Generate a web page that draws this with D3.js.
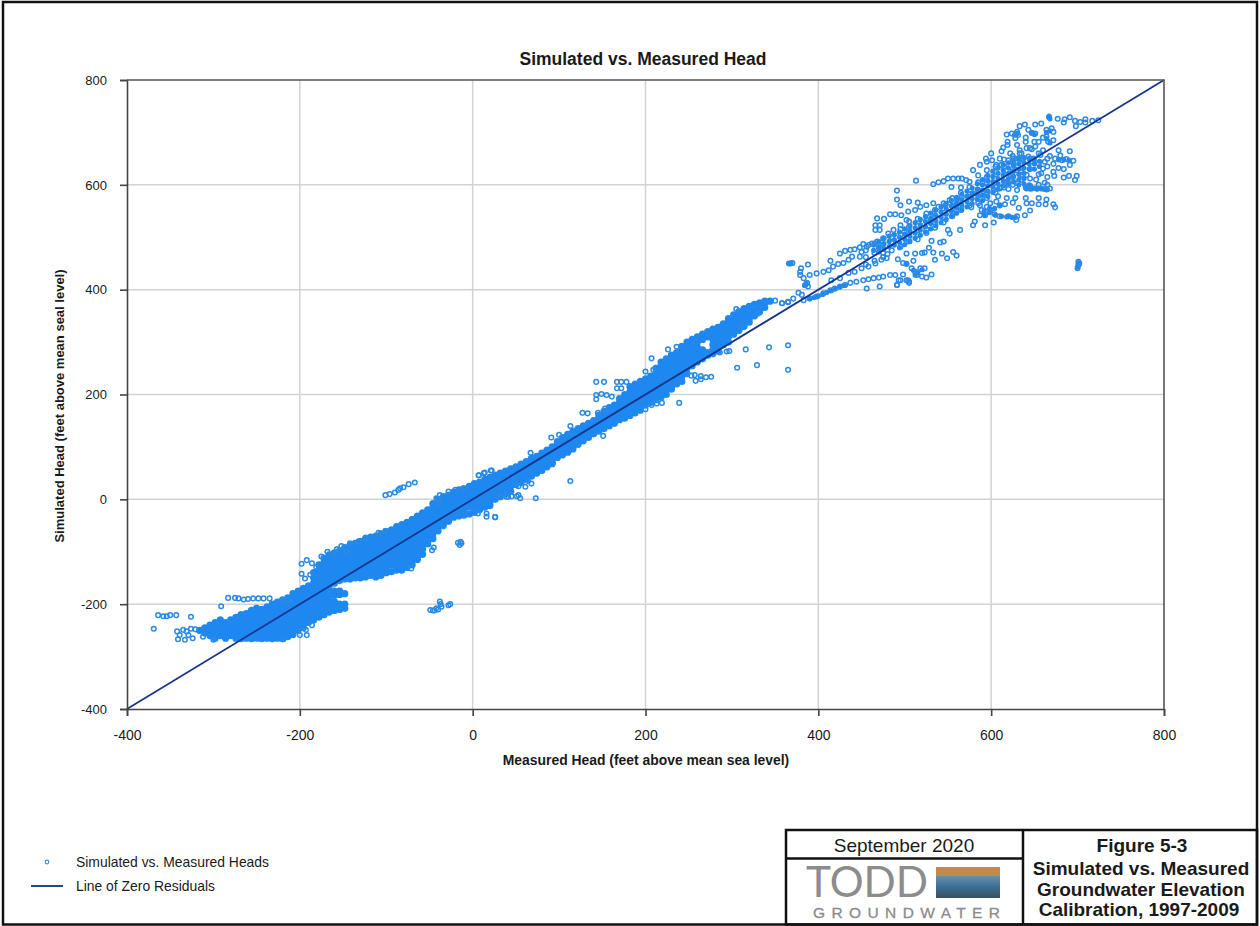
<!DOCTYPE html>
<html>
<head>
<meta charset="utf-8">
<script src="https://cdn.jsdelivr.net/npm/d3@7"></script>
<style>
html, body { margin: 0; padding: 0; background: #fff; }
svg { display: block; }
text { font-family: "Liberation Sans", Arial, sans-serif; fill: #1a1a1a; }
</style>
</head>
<body>
<svg id="chart" width="1260" height="926"></svg>
<script>
'use strict';

var xTicks = [-400, -200, 0, 200, 400, 600, 800];
var yTicks = [-400, -200, 0, 200, 400, 600, 800];
var zeroLine = [-400, 800];

// dense part of the cloud, where the markers merge: one measured value per column
var coreMeasured = [-316,-310,-304,-298,-292,-286,-280,-274,-268,-262,-256,-250,-244,-238,-232,-226,-220,-214,-208,-202,-196,-190,-184,-178,-172,-166,-160,-154,-148,-142,-136,-130,-124,-118,-112,-106,-100,-94,-88,-82,-76,-70,-64,-58,-52,-46,-40,-34,-28,-22,-16,-10,-4,2,8,14,20,26,32,38,44,50,56,62,68,74,80,86,92,98,104,110,116,122,128,134,140,146,152,158,164,170,176,182,188,194,200,206,212,218,224,230,236,242,248,254,260,266,272,278,284,290,296,302,308,314,320,326,332,338,344];
var coreSimulated = [
[-250],[-255,-245],[-260,-250,-240],[-265,-255,-245,-235],[-260,-250,-240,-230],[-265,-255,-245,-235],[-260,-250,-240,-230],
[-265,-255,-245,-235,-225],[-266,-260,-250,-240,-230,-220],[-265,-255,-245,-235,-225,-218],[-266,-260,-250,-240,-230,-220,-212],
[-265,-255,-245,-235,-225,-215,-208],[-266,-260,-250,-240,-230,-220,-210],[-265,-255,-245,-235,-225,-215,-205],
[-266,-260,-250,-240,-230,-220,-210,-200],[-265,-255,-245,-235,-225,-215,-205,-196],[-266,-260,-250,-240,-230,-220,-210,-200,-192],
[-262,-255,-245,-235,-225,-215,-205,-195,-188],[-258,-250,-240,-230,-220,-210,-200,-190,-180],[-250,-245,-235,-225,-215,-205,-195,-185,-175],
[-245,-240,-230,-220,-210,-200,-190,-180,-170],[-235,-225,-215,-205,-195,-185,-175,-165],[-230,-220,-210,-200,-190,-180,-170,-160,-150,-140],
[-225,-215,-205,-195,-185,-175,-165,-155,-145,-135,-125],[-220,-210,-200,-190,-180,-170,-160,-150,-140,-130,-120,-112],
[-215,-205,-195,-185,-175,-165,-155,-145,-135,-125,-115,-106],[-212,-205,-195,-183,-175,-160,-150,-140,-130,-120,-110,-102],
[-210,-200,-182,-175,-155,-145,-135,-125,-115,-105,-98],[-208,-200,-180,-152,-140,-130,-120,-110,-100,-92],
[-152,-145,-135,-125,-115,-105,-95,-88],[-150,-140,-130,-120,-110,-100,-90,-84],[-150,-145,-135,-125,-115,-105,-95,-85,-80],
[-148,-140,-130,-120,-110,-100,-90,-80,-76],[-145,-135,-125,-115,-105,-95,-85,-75,-72],[-148,-140,-130,-120,-110,-100,-90,-80,-70],
[-145,-135,-125,-115,-105,-95,-85,-75,-66],[-140,-130,-120,-110,-100,-90,-80,-70,-62],[-138,-125,-115,-105,-95,-85,-75,-65,-58],
[-135,-130,-120,-110,-100,-90,-80,-70,-60,-52],[-135,-125,-115,-105,-95,-85,-75,-65,-55,-48],[-130,-120,-110,-100,-90,-80,-70,-60,-50,-44],
[-125,-115,-105,-95,-85,-75,-65,-55,-45,-38],[-115,-110,-100,-90,-80,-70,-60,-50,-40,-32],[-105,-95,-85,-75,-65,-55,-45,-35,-26],
[-85,-80,-70,-60,-50,-40,-30,-20],[-75,-65,-55,-45,-35,-25,-15,-8],[-60,-50,-40,-30,-20,-10,0],[-50,-45,-35,-25,-15,-5,5],
[-42,-40,-30,-20,-10,0,8],[-34,-30,-20,-10,0,10,14],[-32,-25,-15,-5,5,15,18],[-30,-20,-10,0,10,20],[-28,-15,-5,5,15,25],
[-25,-20,-10,0,10,20,30],[-20,-15,-5,5,15,25,33],[-15,-10,0,10,20,30,38],[-12,-5,5,15,25,35,42],[0,10,20,30,40,46],[5,15,25,35,45,50],
[10,20,30,40,50,54],[15,25,35,45,55,58],[28,35,45,55,62],[32,40,50,60,67],[38,45,55,65,72],[44,50,60,70,78],[50,55,65,75,82],[55,60,70,80,88],
[62,65,75,85,94],[68,70,80,90,100],[80,85,95,105,110],[85,90,100,110,118],[90,95,105,115,124],[96,100,110,120,130],[105,115,125,135],
[112,120,130,140],[118,125,135,145],[125,130,140,150],[130,135,145,155,160],[135,140,150,160,168],[140,145,155,165,175],[145,150,160,170,180],
[152,155,165,175,185,192],[155,160,170,180,190,200],[160,165,175,185,195,205,215],[165,170,180,190,200,210,220],[170,175,185,195,205,215,225],
[180,190,200,210,220,230],[185,195,205,215,225,235],[190,200,210,220,230,240,250],[195,205,215,225,235,245,255,262],[200,210,220,230,240,250,260,268],
[210,215,225,235,245,255,265,275],[220,230,240,250,260,270,280],[225,235,245,255,265,275,285,292],[240,250,260,270,280,290,300],
[255,265,275,285,295,305],[262,270,280,290,300,310],[268,275,285,305,315],[275,280,310,320],[278,285,295,305,315,325],[283,290,300,310,320,328],
[295,305,315,325,335],[300,310,320,330,340,345],[315,325,335,345,352],[322,330,340,350,358],[330,335,345,355,364],[338,345,355,368],
[350,360,372],[358,365,375],[366,375,378],[378]
];

// same idea for the upper cloud, which merges less
var upperCoreMeasured = [464,470,476,482,488,494,500,506,512,518,524,530,536,542,548,554,560,566,572,578,584,590,596,602,608,614,620,626,632,638,644,650,656,662];
var upperCoreSimulated = [
[485,475],[492,482,472],[498,488,478],[502,492,482],[505,495,485],[510,500,490,480],[516,506,496,486],[522,512,502,492],[528,518,508,498],
[534,524,514,504],[540,530,520,510],[546,536,526,516],[552,542,532,522],[558,548,538,528],[564,554,544,534],[570,560,550,540],[576,566,556,546],
[582,572,562,552],[588,578,568,558],[594,584,574,564],[602,592,582,572],[610,600,590,580,570],[618,608,598,588,578],[626,616,606,596,586],
[632,622,612,602,592],[638,628,618,608,598],[642,632,622,612,602],[646,636,626,616,606],[650,640,630,620,610,600],[652,642,632,622,612,602],
[650,640,630,600,594],[648,640,630,594],[645,635,594],[592]
];
var upperBlobs = [
[598,555],[604,555],[592,550],[598,547],[592,543],[610,560],[510,437],[515,432],[520,438],[512,428],[502,450],[620,540],[628,538],
[390,383],[395,385],[400,388],[405,391],[410,395],[415,398],[420,402],[425,405],[430,408],[384,408],[386,412],[367,450],[701,447],[700,443],[701,451],
[641,593],[645,592],[649,593],[653,592],[657,593],[661,592],[665,592],[678,648],[684,648],[690,647],[647,700],[650,696],[664,700],[668,703],[627,695],
[630,698],[668,726],[667,731],[664,688],[668,680],[605,542],[612,540],[618,539],[624,538]
];

// single markers still readable on their own, [measured, simulated]
var lowerScatter = [
[-369,-247],[-364,-221],[-358,-223],[-354,-223],[-350,-221],[-343,-221],[-326,-224],[-291,-204],[-283,-188],[-275,-188],[-271,-189],[-265,-191],
[-260,-190],[-254,-189],[-248,-189],[-242,-189],[-235,-189],[-219,-192],[-213,-192],[-342,-252],[-339,-259],[-335,-249],[-341,-267],[-333,-268],
[-329,-259],[-324,-265],[-331,-252],[-326,-247],[-321,-248],[-312,-262],[-300,-268],[-192,-259],[-193,-249],[-200,-259],[-219,-267],[-186,-240],
[-198,-123],[-192,-116],[-186,-122],[-181,-129],[-198,-142],[-194,-151],[-188,-144],[-175,-109],[-168,-100],[-157,-95],[-152,-89],[-142,-84],
[-132,-80],[-124,-73],[-109,-64],[-101,-60],[-146,-100],[-161,-106],[-49,-211],[-44,-212],[-40,-210],[-38,-195],[-36,-205],[-28,-202],[-26,-200],
[-46,-212],[-42,-208],[-37,-200],[-17,-83],[-14,-81],[-15,-87],[-13,-84],[-47,-97],[-45,-92],[-71,-132],[-101,8],[-96,10],[-90,13],[-86,18],[-80,23],
[-74,29],[-67,32],[-84,21],[-42,2],[-38,8],[-28,15],[-20,18],[-11,21],[7,46],[14,51],[22,55],[-40,-8],[16,-33],[26,-34],[6,-27],[41,5],[53,8]
];
var midScatter = [
[73,2],[113,35],[151,121],[91,118],[127,165],[133,164],[143,224],[152,224],[167,224],[172,224],[178,224],[167,212],[172,212],[143,199],[149,201],
[155,199],[161,196],[143,191],[153,173],[145,165],[207,269],[226,286],[236,291],[200,244],[209,247],[200,172],[207,180],[213,183],[219,184],[239,184],
[253,236],[257,237],[258,226],[264,229],[264,235],[270,233],[276,234],[286,280],[294,282],[297,283],[306,251],[316,286],[329,256],[343,290],[365,294],
[365,247],[305,363],[311,328],[330,354],[358,374],[365,376],[350,379],[51,6],[55,2],[39,5],[45,6],[32,5],[61,24],[64,35],[68,30],[53,25],[16,-27],
[26,-34],[7,46],[13,50],[21,55],[67,89],[100,123],[113,140]
];
var upperScatter = [
[358,374],[365,377],[371,383],[377,394],[381,390],[383,380],[390,383],[398,387],[406,393],[414,399],[419,402],[425,406],[431,409],[437,413],[444,415],
[452,418],[458,420],[464,422],[470,423],[475,425],[483,428],[489,428],[498,429],[493,418],[502,418],[505,415],[456,402],[471,406],[491,409],[379,434],
[380,441],[379,428],[383,422],[390,428],[398,431],[406,434],[412,437],[417,444],[423,449],[429,451],[435,457],[439,463],[425,469],[431,474],[437,476],
[442,477],[448,481],[452,487],[458,485],[368,450],[366,450],[370,451],[388,448],[414,455],[385,409],[387,413],[388,406],[415,418],[425,422],[435,432],
[442,434],[450,441],[458,444],[466,450],[473,457],[479,460],[533,601],[539,605],[545,607],[550,612],[556,612],[562,612],[566,612],[571,609],[513,608],
[491,589],[491,572],[495,561],[505,568],[515,566],[468,536],[476,535],[483,544],[489,544],[466,523],[471,523],[466,514],[471,514],[554,596],[633,712],
[639,715],[651,715],[658,717],[667,729],[677,726],[684,719],[685,725],[691,729],[697,722],[698,712],[703,720],[709,725],[709,719],[717,722],[724,723],
[618,696],[624,698],[630,701],[628,689],[631,695],[619,682],[619,676],[612,664],[614,671],[633,666],[633,660],[643,705],[647,699],[651,698],[664,705],
[670,708],[672,701],[664,692],[666,682],[672,685],[678,666],[691,664],[641,670],[647,668],[651,673],[660,666],[674,650],[682,647],[687,649],[695,646],
[691,638],[673,617],[684,614],[690,617],[699,617],[697,609],[662,604],[641,593],[647,593],[653,593],[658,593],[664,591],[668,593],[641,565],[647,565],
[655,563],[663,563],[672,563],[674,557],[645,551],[639,542],[630,540],[629,533],[620,540],[610,540],[604,544],[603,528],[593,523],[581,530],[579,523],
[599,565],[606,568],[610,561],[595,558],[589,552],[587,542],[593,542],[599,549],[616,563],[587,561],[577,557],[579,628],[587,638],[595,644],[601,647],
[606,638],[612,638],[620,647],[626,650],[631,650],[637,650],[643,654],[649,650],[657,657],[662,644],[660,631],[658,622],[626,638],[630,628],[635,619],
[641,619],[631,603],[624,609],[618,603],[610,593],[603,590],[595,584],[587,581],[579,584],[574,577],[566,577],[560,574],[552,571],[547,561],[539,558],
[533,565],[525,561],[518,558],[512,552],[504,549],[496,542],[502,533],[495,523],[487,514],[481,507],[475,498],[468,492],[462,488],[456,482],[450,472],
[448,463],[498,451],[502,449],[510,455],[508,441],[512,434],[518,441],[523,441],[514,428],[520,425],[525,423],[531,429],[495,418],[504,418],[505,413],
[491,409],[502,469],[512,469],[523,471],[533,471],[543,469],[549,460],[556,472],[560,465],[545,492],[541,490],[531,493],[535,457],[552,507],[550,514],
[564,514],[701,453],[701,447],[700,441],[702,450],[455,462],[455,448],[455,475],[465,470],[465,455],[465,488],[475,486],[475,462],[475,470],[485,490],
[485,475],[485,500],[495,505],[495,482],[495,515],[505,510],[505,492],[505,520],[505,530],[515,522],[515,505],[515,535],[515,496],[525,533],[525,515],
[525,545],[525,508],[535,540],[535,528],[535,552],[535,518],[545,555],[545,538],[545,565],[545,528],[555,560],[555,548],[555,575],[555,540],[565,570],
[565,558],[565,585],[565,552],[565,595],[575,582],[575,568],[575,596],[575,560],[575,606],[585,590],[585,578],[585,605],[585,565],[585,618],[595,604],
[595,586],[595,615],[595,575],[595,628],[605,612],[605,596],[605,625],[605,585],[605,635],[615,620],[615,606],[615,635],[615,595],[615,648],[625,626],
[625,615],[625,645],[625,600],[625,655],[635,640],[635,624],[635,610],[635,660],[645,650],[645,630],[645,612],[645,598],[645,670],[655,660],[655,640],
[655,620],[655,600],[665,650],[665,635],[665,600],[610,595],[620,592],[630,590],[640,595],[668,655],[672,640],[678,632],[684,630],[680,656],[650,682],
[640,682],[630,676],[622,660],[610,650],[600,660],[594,650],[655,682],[660,690],[640,690],[672,625],[665,615],[652,610],[640,575],[628,575],[618,575],
[608,578],[625,566],[632,556],[655,575],[664,572],[520,470],[528,480],[492,458],[480,468],[470,480]
];

var legendLabels = ['Simulated vs. Measured Heads', 'Line of Zero Residuals'];
var titleLines = ['Figure 5-3', 'Simulated vs. Measured', 'Groundwater Elevation', 'Calibration, 1997-2009'];

var svg = d3.select('#chart');
var plot = { left: 127, right: 1164, top: 80, bottom: 709 };

var x = d3.scaleLinear().domain([-400, 800]).range([plot.left, plot.right]);
var y = d3.scaleLinear().domain([-400, 800]).range([plot.bottom, plot.top]);

// sheet border
svg.append('rect')
    .attr('x', 3).attr('y', 2).attr('width', 1254).attr('height', 922.5)
    .attr('fill', 'none').attr('stroke', '#111').attr('stroke-width', 2.5);

// gridlines
svg.append('g').selectAll('line').data(xTicks.slice(1, -1)).join('line')
    .attr('x1', function(d) { return x(d); }).attr('x2', function(d) { return x(d); })
    .attr('y1', plot.top).attr('y2', plot.bottom)
    .attr('stroke', '#d2d2d2').attr('stroke-width', 1.5);
svg.append('g').selectAll('line').data(yTicks.slice(1, -1)).join('line')
    .attr('x1', plot.left).attr('x2', plot.right)
    .attr('y1', function(d) { return y(d); }).attr('y2', function(d) { return y(d); })
    .attr('stroke', '#d2d2d2').attr('stroke-width', 1.5);

function columns(measured, simulated) {
    var out = [];
    measured.forEach(function(m, i) {
        simulated[i].forEach(function(s) { out.push([m, s]); });
    });
    return out;
}

// merged core, drawn solid
svg.append('g').selectAll('circle').data(columns(coreMeasured, coreSimulated)).join('circle')
    .attr('cx', function(d) { return x(d[0]); })
    .attr('cy', function(d) { return y(d[1]); })
    .attr('r', 3.6)
    .attr('fill', '#1f88f0');
svg.append('g').selectAll('circle').data(columns(upperCoreMeasured, upperCoreSimulated).concat(upperBlobs)).join('circle')
    .attr('cx', function(d) { return x(d[0]); })
    .attr('cy', function(d) { return y(d[1]); })
    .attr('r', 2.6)
    .attr('fill', '#1f88f0');

// open markers
svg.append('g').selectAll('circle').data(lowerScatter.concat(midScatter, upperScatter)).join('circle')
    .attr('cx', function(d) { return x(d[0]); })
    .attr('cy', function(d) { return y(d[1]); })
    .attr('r', 2.3)
    .attr('fill', 'none')
    .attr('stroke', '#2c8ae4')
    .attr('stroke-width', 1.5);

// zero residual line
svg.append('path')
    .datum(zeroLine)
    .attr('d', d3.line().x(function(d) { return x(d); }).y(function(d) { return y(d); }))
    .attr('fill', 'none').attr('stroke', '#16368c').attr('stroke-width', 1.8);

// axes, plain hyphen on the negative labels as in the figure
var xAxis = svg.append('g')
    .attr('transform', 'translate(0,' + plot.bottom + ')')
    .call(d3.axisBottom(x).tickValues(xTicks).tickSize(7).tickPadding(14).tickFormat(String));
var yAxis = svg.append('g')
    .attr('transform', 'translate(' + plot.left + ',0)')
    .call(d3.axisLeft(y).tickValues(yTicks).tickSize(7).tickPadding(13).tickFormat(String));
[xAxis, yAxis].forEach(function(a, i) {
    a.selectAll('text').style('font-size', i === 0 ? '14px' : '13px').attr('fill', '#1a1a1a')
        .style('font-family', '"Liberation Sans", Arial, sans-serif');
    a.selectAll('.domain, line').attr('stroke', '#444').attr('stroke-width', 1.6);
});

// top and right edges of the frame
svg.append('path')
    .attr('d', d3.line()([[plot.left, plot.top], [plot.right, plot.top], [plot.right, plot.bottom]]))
    .attr('fill', 'none').attr('stroke', '#555').attr('stroke-width', 1.6);

svg.append('text')
    .attr('x', 643).attr('y', 65).attr('text-anchor', 'middle')
    .style('font-size', '17.5px').style('font-weight', 'bold')
    .text('Simulated vs. Measured Head');
svg.append('text')
    .attr('x', 646).attr('y', 765).attr('text-anchor', 'middle')
    .style('font-size', '13.9px').style('font-weight', 'bold')
    .text('Measured Head (feet above mean sea level)');
svg.append('text')
    .attr('transform', 'translate(64,406) rotate(-90)').attr('text-anchor', 'middle')
    .style('font-size', '13px').style('font-weight', 'bold')
    .text('Simulated Head (feet above mean seal level)');

// legend
svg.append('circle')
    .attr('cx', 47).attr('cy', 862).attr('r', 1.8)
    .attr('fill', 'none').attr('stroke', '#3f8fd0').attr('stroke-width', 1.2);
svg.append('line')
    .attr('x1', 31).attr('x2', 63).attr('y1', 886).attr('y2', 886)
    .attr('stroke', '#1f4a8e').attr('stroke-width', 2);
svg.append('g').selectAll('text').data(legendLabels).join('text')
    .attr('x', 76)
    .attr('y', function(d, i) { return 866.5 + i * 24.5; })
    .style('font-size', '13.9px').attr('fill', '#333')
    .text(function(d) { return d; });

// title block
var block = svg.append('g').attr('fill', 'none').attr('stroke', '#111').attr('stroke-width', 2.5);
block.append('rect').attr('x', 786).attr('y', 830).attr('width', 471).attr('height', 94.5);
block.append('line').attr('x1', 1023).attr('x2', 1023).attr('y1', 830).attr('y2', 924.5);
block.append('line').attr('x1', 786).attr('x2', 1023).attr('y1', 858.5).attr('y2', 858.5);

svg.append('text')
    .attr('x', 904).attr('y', 852).attr('text-anchor', 'middle')
    .style('font-size', '19px')
    .text('September 2020');
svg.append('g').selectAll('text').data(titleLines).join('text')
    .attr('x', function(d, i) { return [1142, 1141, 1141, 1139][i]; })
    .attr('y', function(d, i) { return [852, 875, 896, 916][i]; })
    .attr('text-anchor', 'middle')
    .style('font-size', '19px').style('font-weight', 'bold')
    .text(function(d) { return d; });

// logo
svg.append('text')
    .attr('x', 806).attr('y', 897)
    .attr('textLength', 122).attr('lengthAdjust', 'spacingAndGlyphs')
    .style('font-size', '42px').style('font-family', 'Lato, "Liberation Sans", sans-serif')
    .style('fill', '#8c8c8c')
    .text('TODD');
svg.append('text')
    .attr('x', 813).attr('y', 918)
    .attr('textLength', 187)
    .style('font-size', '15.5px')
    .style('fill', '#8c8c8c')
    .style('stroke', '#8c8c8c').style('stroke-width', 0.3)
    .text('GROUNDWATER');

var grad = svg.append('defs').append('linearGradient')
    .attr('id', 'logoGrad').attr('x1', 0).attr('x2', 0).attr('y1', 0).attr('y2', 1);
grad.append('stop').attr('offset', '0').attr('stop-color', '#6d93ad');
grad.append('stop').attr('offset', '0.5').attr('stop-color', '#3e7097');
grad.append('stop').attr('offset', '1').attr('stop-color', '#36505f');
svg.append('rect').attr('x', 936).attr('y', 875).attr('width', 64).attr('height', 23).attr('fill', 'url(#logoGrad)');
svg.append('rect').attr('x', 936).attr('y', 867).attr('width', 64).attr('height', 9).attr('fill', '#c48a45');
</script>
</body>
</html>
